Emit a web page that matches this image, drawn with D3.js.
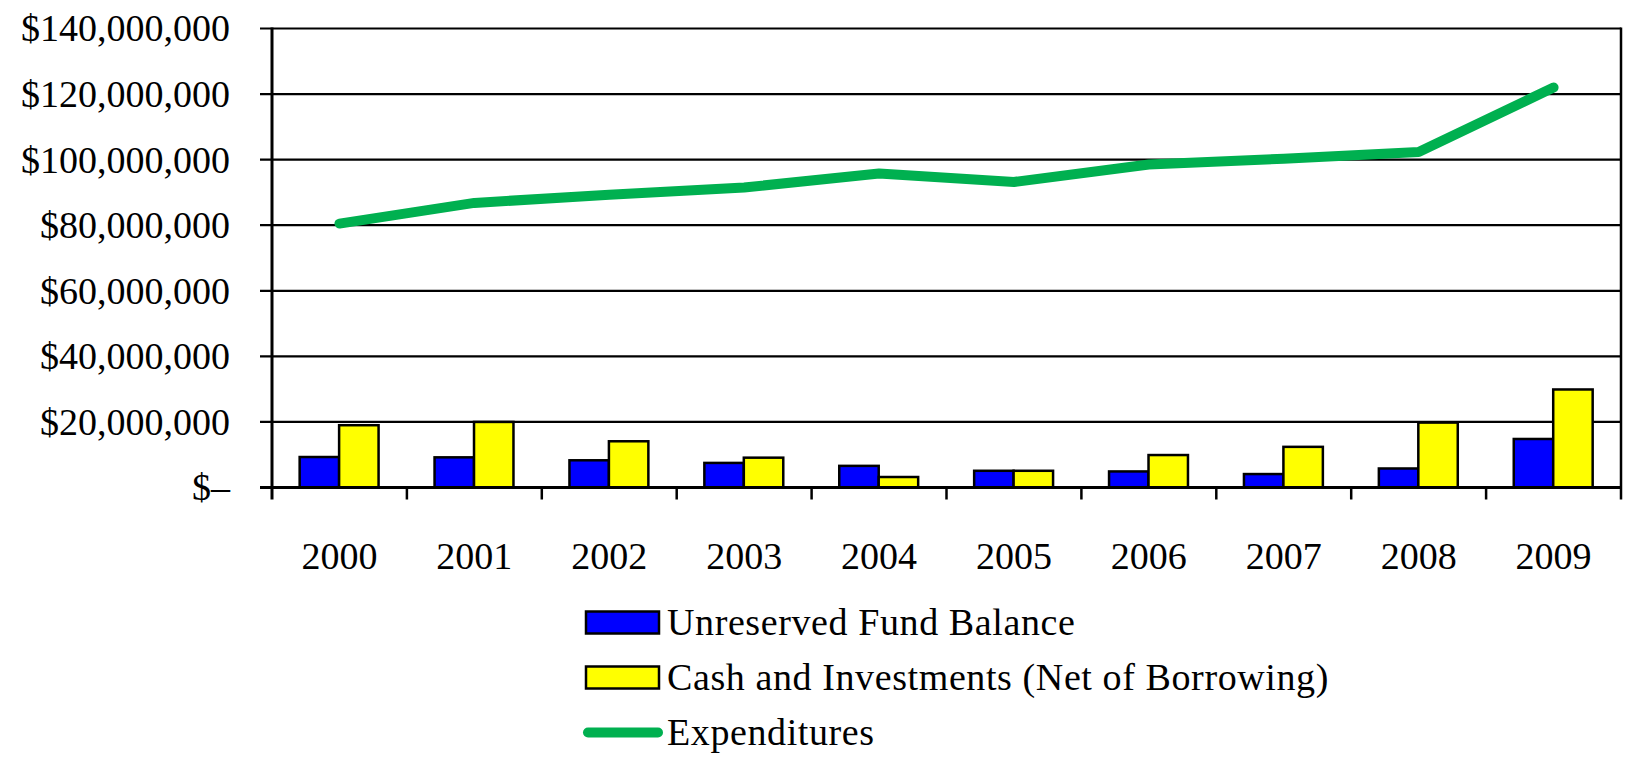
<!DOCTYPE html>
<html>
<head>
<meta charset="utf-8">
<script src="https://cdn.jsdelivr.net/npm/d3@7"></script>
<style>
  body { margin: 0; background: #fff; }
  svg text { font-family: "Liberation Serif", "Times New Roman", serif; fill: #000; }
</style>
</head>
<body>
<svg id="chart" width="1627" height="759"></svg>
<script>
  // chart data
  var years = ["2000", "2001", "2002", "2003", "2004", "2005", "2006", "2007", "2008", "2009"];
  var unreserved = [9.3e6, 9.2e6, 8.3e6, 7.5e6, 6.6e6, 5.1e6, 4.9e6, 4.1e6, 5.8e6, 14.8e6];
  var cash = [19.0e6, 20.0e6, 14.1e6, 9.1e6, 3.2e6, 5.1e6, 9.9e6, 12.4e6, 19.8e6, 29.9e6];
  var expenditures = [80.5e6, 86.8e6, 89.3e6, 91.5e6, 95.8e6, 93.2e6, 98.5e6, 100.3e6, 102.3e6, 122.0e6];
  var yTicks = [0, 20e6, 40e6, 60e6, 80e6, 100e6, 120e6, 140e6];
  var seriesNames = ["Unreserved Fund Balance", "Cash and Investments (Net of Borrowing)", "Expenditures"];
  var barColors = ["#0000ff", "#ffff00"];
  var lineColor = "#00b050";

(function () {
  var svg = d3.select("svg#chart");
  var plotLeft = 272, plotRight = 1621, plotTop = 28.5, plotBottom = 487.5;

  var x = d3.scaleBand().domain(years).range([plotLeft, plotRight]);
  var bw = x.bandwidth();
  var x1 = d3.scaleBand().domain([0, 1]).range([bw * 0.205, bw * 0.79]);
  var y = d3.scaleLinear().domain([0, 140e6]).range([plotBottom, plotTop]);

  // gridlines
  svg.append("g").selectAll("line")
    .data(yTicks.slice(1))
    .enter().append("line")
    .attr("x1", plotLeft - 12).attr("x2", plotRight)
    .attr("y1", function(d) { return y(d); }).attr("y2", function(d) { return y(d); })
    .attr("stroke", "#000").attr("stroke-width", 2.2);

  // y labels
  var fmt = d3.format(",");
  svg.append("g").selectAll("text")
    .data(yTicks)
    .enter().append("text")
    .attr("x", 230)
    .attr("y", function(d) { return y(d); })
    .attr("dy", "0.34em")
    .style("text-anchor", "end")
    .style("font-size", "38px")
    .text(function(d) { return d === 0 ? "$\u2013" : "$" + fmt(d); });

  // bars
  var groups = svg.append("g").selectAll("g")
    .data(years)
    .enter().append("g")
    .attr("transform", function(d) { return "translate(" + x(d) + ",0)"; });

  groups.selectAll("rect")
    .data(function(d, i) { return [unreserved[i], cash[i]]; })
    .enter().append("rect")
    .attr("x", function(d, j) { return x1(j); })
    .attr("y", function(d) { return y(d); })
    .attr("width", x1.bandwidth())
    .attr("height", function(d) { return plotBottom - y(d); })
    .attr("fill", function(d, j) { return barColors[j]; })
    .attr("stroke", "#000")
    .attr("stroke-width", 2.5);

  // axes
  svg.append("line")
    .attr("x1", plotLeft - 12).attr("x2", plotRight)
    .attr("y1", plotBottom).attr("y2", plotBottom)
    .attr("stroke", "#000").attr("stroke-width", 3);
  svg.append("line")
    .attr("x1", plotLeft).attr("x2", plotLeft)
    .attr("y1", plotTop - 1).attr("y2", plotBottom + 12)
    .attr("stroke", "#000").attr("stroke-width", 3);
  svg.append("line")
    .attr("x1", plotRight).attr("x2", plotRight)
    .attr("y1", plotTop - 1).attr("y2", plotBottom + 12)
    .attr("stroke", "#000").attr("stroke-width", 2.5);

  // x ticks on category boundaries
  svg.append("g").selectAll("line")
    .data(years.slice(1))
    .enter().append("line")
    .attr("x1", function(d) { return x(d); }).attr("x2", function(d) { return x(d); })
    .attr("y1", plotBottom).attr("y2", plotBottom + 12)
    .attr("stroke", "#000").attr("stroke-width", 2.5);

  svg.append("g").selectAll("text")
    .data(years)
    .enter().append("text")
    .attr("x", function(d) { return x(d) + bw / 2; })
    .attr("y", 569)
    .style("text-anchor", "middle")
    .style("font-size", "38px")
    .text(function(d) { return d; });

  // expenditures line
  var line = d3.line()
    .x(function(d, i) { return x(years[i]) + bw / 2; })
    .y(function(d) { return y(d); });

  svg.append("path")
    .datum(expenditures)
    .attr("d", line)
    .attr("fill", "none")
    .attr("stroke", lineColor)
    .attr("stroke-width", 10)
    .attr("stroke-linejoin", "round")
    .attr("stroke-linecap", "round");

  // legend
  var lg = svg.append("g").attr("transform", "translate(586, 0)");
  var rowY = [622.5, 677.5, 732.5];

  [0, 1].forEach(function(j) {
    lg.append("rect")
      .attr("x", 0).attr("y", rowY[j] - 11)
      .attr("width", 73).attr("height", 22)
      .attr("fill", barColors[j])
      .attr("stroke", "#000").attr("stroke-width", 2.5);
  });
  lg.append("line")
    .attr("x1", 2).attr("x2", 72)
    .attr("y1", rowY[2]).attr("y2", rowY[2])
    .attr("stroke", lineColor).attr("stroke-width", 10)
    .attr("stroke-linecap", "round");

  lg.selectAll("text")
    .data(seriesNames)
    .enter().append("text")
    .attr("x", 81)
    .attr("y", function(d, i) { return rowY[i]; })
    .attr("dy", "0.34em")
    .style("font-size", "38px")
    .style("letter-spacing", "0.6px")
    .text(function(d) { return d; });
}());
</script>
</body>
</html>
